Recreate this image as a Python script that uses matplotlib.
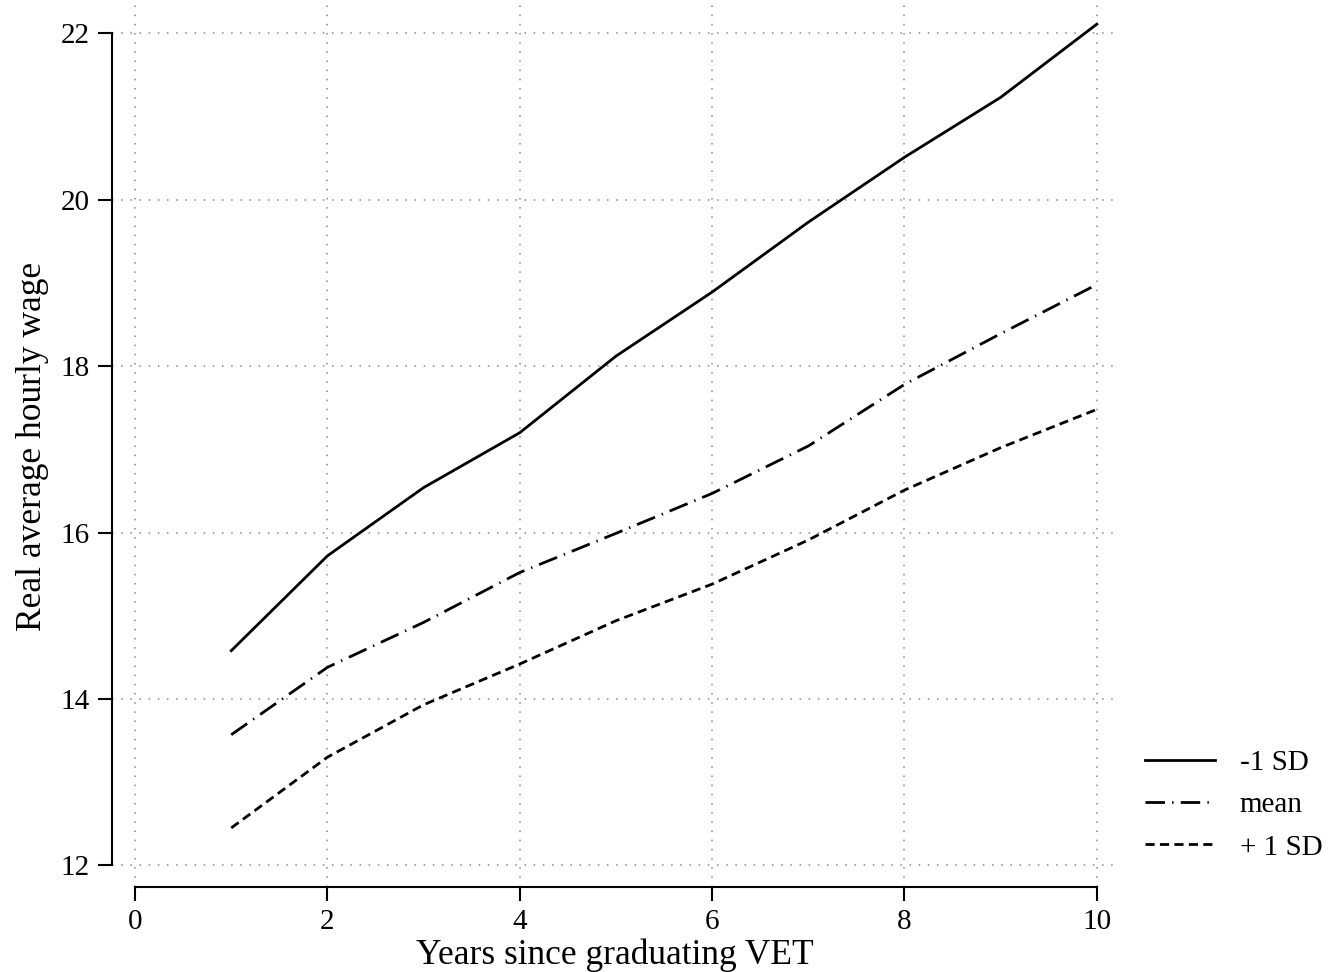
"""Real wage trajectories by years since graduating VET."""
import matplotlib
matplotlib.use("Agg")
import matplotlib.pyplot as plt

years = [1, 2, 3, 4, 5, 6, 7, 8, 9, 10]
minus_sd = [14.58, 15.72, 16.54, 17.20, 18.12, 18.89, 19.73, 20.51, 21.23, 22.11]
mean_wage = [13.57, 14.38, 14.92, 15.52, 15.99, 16.47, 17.04, 17.78, 18.39, 18.98]
plus_sd = [12.45, 13.30, 13.93, 14.42, 14.94, 15.38, 15.91, 16.51, 17.02, 17.48]

series_labels = ["-1 SD", "mean", "+ 1 SD"]
x_ticks = [0, 2, 4, 6, 8, 10]
y_ticks = [12, 14, 16, 18, 20, 22]

plt.rcParams["font.family"] = ["Liberation Serif", "DejaVu Serif"]

fig = plt.figure(figsize=(13.28, 9.72), dpi=100)
ax = fig.add_axes([112 / 1328, 1 - 887 / 972, (1118 - 112) / 1328, (887 - 5) / 972])

ax.plot(years, minus_sd, color="black", lw=2.0, ls="-", label=series_labels[0])
ax.plot(years, mean_wage, color="black", lw=2.0, ls=(0, (7, 2.6, 0.5, 2.6)), label=series_labels[1])
ax.plot(years, plus_sd, color="black", lw=2.0, ls=(0, (3.3, 1.9)), label=series_labels[2])

ax.set_xlim(-0.24, 10.22)
ax.set_ylim(11.74, 22.34)
ax.set_xticks(x_ticks)
ax.set_yticks(y_ticks)
ax.spines["top"].set_visible(False)
ax.spines["right"].set_visible(False)
ax.spines["left"].set_bounds(12, 22)
ax.spines["bottom"].set_bounds(0, 10)
for s in ("left", "bottom"):
    ax.spines[s].set_linewidth(1.5)
ax.tick_params(axis="both", length=10, width=1.5, labelsize=21, pad=6)

ax.grid(True, color="#888888", ls=(0, (1, 5)), lw=1.1)
ax.set_axisbelow(True)

ax.set_xlabel("Years since graduating VET", fontsize=25.5, labelpad=2)
ax.set_ylabel("Real average hourly wage", fontsize=25.5, labelpad=8)

fig.legend(loc="center left", bbox_to_anchor=(1145 / 1328, 1 - 805 / 972), frameon=False,
           fontsize=21, handlelength=2.4, handletextpad=0.85, labelspacing=0.55,
           borderpad=0, borderaxespad=0)

fig.savefig("out.png", dpi=100)
plt.close(fig)
